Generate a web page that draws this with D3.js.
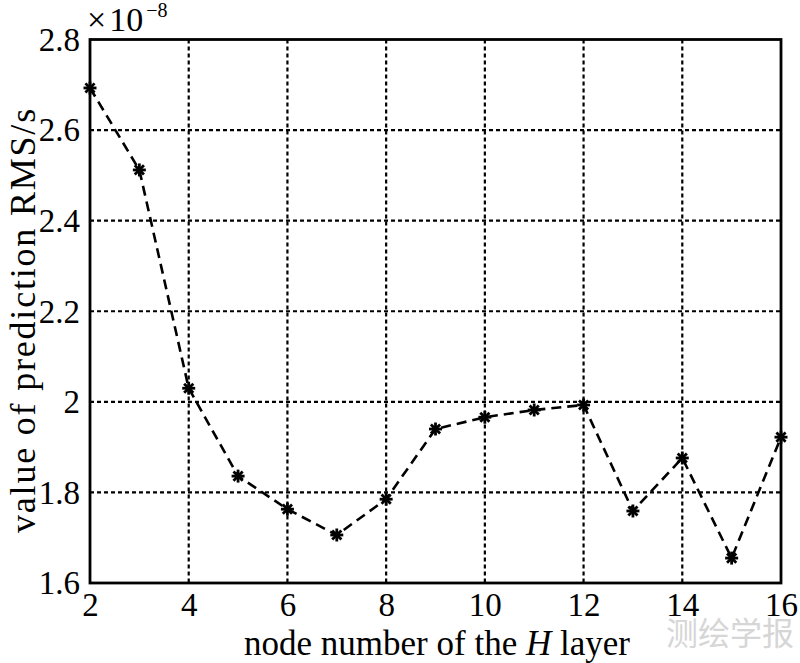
<!DOCTYPE html>
<html><head><meta charset="utf-8">
<script src="https://cdn.jsdelivr.net/npm/d3@7"></script>
<style>body{margin:0;background:#fff}svg{display:block}</style>
</head><body>
<svg id="c" width="800" height="663"></svg>
<script>
const nodes = [2,3,4,5,6,7,8,9,10,11,12,13,14,15,16];
const rms = [2.693,2.512,2.030,1.836,1.763,1.706,1.785,1.940,1.966,1.982,1.993,1.759,1.876,1.655,1.922];
const xTicks = [2,4,6,8,10,12,14,16];
const yTicks = [1.6,1.8,2.0,2.2,2.4,2.6,2.8];
const yTickLabels = ["1.6","1.8","2","2.2","2.4","2.6","2.8"];

const svg = d3.select("#c");
const L=90, R=781, T=39.5, B=583;
const x = d3.scaleLinear().domain([2,16]).range([L,R]);
const y = d3.scaleLinear().domain([1.6,2.8]).range([B,T]);
const font = "'Liberation Serif','Times New Roman',serif";

// grid
const g = svg.append("g");
g.selectAll(".vg").data(xTicks.slice(1,-1)).enter().append("line")
  .attr("x1",d=>x(d)).attr("x2",d=>x(d)).attr("y1",T).attr("y2",B)
  .attr("stroke","#000").attr("stroke-width",2.2).attr("stroke-dasharray","4,3");
g.selectAll(".hg").data(yTicks.slice(1,-1)).enter().append("line")
  .attr("y1",d=>y(d)).attr("y2",d=>y(d)).attr("x1",L).attr("x2",R)
  .attr("stroke","#000").attr("stroke-width",2.2).attr("stroke-dasharray","4,3");

// axes with d3
const xAxis = d3.axisBottom(x).tickValues(xTicks).tickSize(0).tickPadding(10).tickFormat(d3.format("d"));
const gx = svg.append("g").attr("transform",`translate(0,${B})`).call(xAxis);
gx.select(".domain").remove();
gx.selectAll("text").attr("font-family",font).attr("font-size",33).attr("fill","#000");

const yAxis = d3.axisLeft(y).tickValues(yTicks).tickSize(0).tickPadding(10).tickFormat((d,i)=>yTickLabels[i]);
const gy = svg.append("g").attr("transform",`translate(${L},0)`).call(yAxis);
gy.select(".domain").remove();
gy.selectAll("text").attr("font-family",font).attr("font-size",33).attr("fill","#000").attr("dy","0.33em");

// frame
svg.append("rect").attr("x",L).attr("y",T).attr("width",R-L).attr("height",B-T)
  .attr("fill","none").attr("stroke","#000").attr("stroke-width",2.8);

// line
const line = d3.line().x((d,i)=>x(nodes[i])).y(d=>y(d));
svg.append("path").datum(rms).attr("d",line).attr("fill","none")
  .attr("stroke","#000").attr("stroke-width",2.6).attr("stroke-dasharray","10,6");

// asterisk markers
const m = svg.append("g");
const r = 6.5;
rms.forEach((v,i)=>{
  const cx=x(nodes[i]), cy=y(v);
  [0,45,90,135].forEach(a=>{
    const rad=a*Math.PI/180;
    m.append("line").attr("x1",cx-r*Math.cos(rad)).attr("y1",cy-r*Math.sin(rad))
      .attr("x2",cx+r*Math.cos(rad)).attr("y2",cy+r*Math.sin(rad))
      .attr("stroke","#000").attr("stroke-width",2.8);
  });
});

// exponent
const ex = svg.append("text").attr("x",87).attr("y",31).attr("font-family",font).attr("font-size",34).attr("fill","#000");
ex.append("tspan").text("×");
ex.append("tspan").attr("dx",3).text("10");
ex.append("tspan").attr("dx",3).attr("dy",-14).attr("font-size",20).text("−8");

// axis labels
const xl = svg.append("text").attr("x",437).attr("y",655).attr("text-anchor","middle")
  .attr("font-family",font).attr("font-size",35).attr("fill","#000");
xl.append("tspan").text("node number of the ");
xl.append("tspan").attr("font-style","italic").text("H");
xl.append("tspan").text(" layer");

svg.append("text").attr("transform","translate(35,320) rotate(-90)").attr("text-anchor","middle")
  .attr("font-family",font).attr("font-size",36).attr("letter-spacing",1.8).attr("fill","#000").text("value of prediction RMS/s");

// watermark
svg.append("text").attr("x",794).attr("y",645).attr("text-anchor","end")
  .attr("font-family","'Noto Sans CJK SC',sans-serif").attr("font-size",32).attr("fill","#d6d6d6").text("测绘学报");
</script>
</body></html>
